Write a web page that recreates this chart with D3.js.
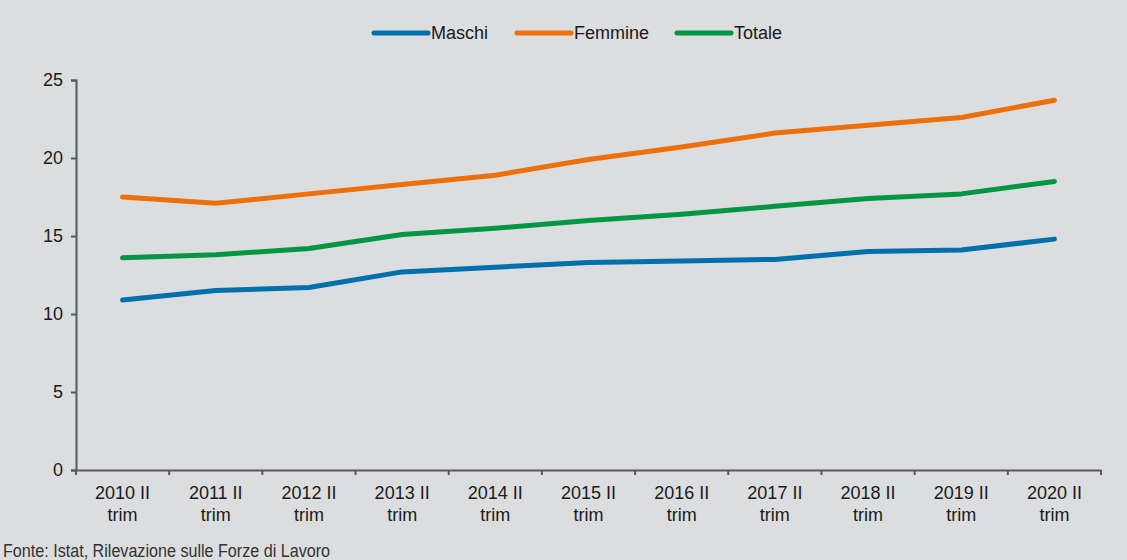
<!DOCTYPE html>
<html>
<head>
<meta charset="utf-8">
<script src="https://cdn.jsdelivr.net/npm/d3@7"></script>
<style>
  body { margin: 0; background: #dcddde; }
  svg { display: block; font-family: "Liberation Sans", Arial, sans-serif; }
</style>
</head>
<body>
<svg id="chart" width="1127" height="560"></svg>
<script>
var categories = ["2010 II trim", "2011 II trim", "2012 II trim", "2013 II trim", "2014 II trim",
    "2015 II trim", "2016 II trim", "2017 II trim", "2018 II trim", "2019 II trim", "2020 II trim"]
var maschi = [10.9, 11.5, 11.7, 12.7, 13.0, 13.3, 13.4, 13.5, 14.0, 14.1, 14.8]
var femmine = [17.5, 17.1, 17.7, 18.3, 18.9, 19.9, 20.7, 21.6, 22.1, 22.6, 23.7]
var totale = [13.6, 13.8, 14.2, 15.1, 15.5, 16.0, 16.4, 16.9, 17.4, 17.7, 18.5]
var yTicks = [0, 5, 10, 15, 20, 25]
var seriesNames = ["Maschi", "Femmine", "Totale"]
var seriesColors = ["#0070ad", "#ed700a", "#009644"]

var series = [maschi, femmine, totale].map(function(v, i) {
    return { name: seriesNames[i], color: seriesColors[i], values: v }
})

var svg = d3.select("#chart")
var plotLeft = 76, plotRight = 1101, plotTop = 80, plotBottom = 470
var axisColor = "#595959"
var textColor = "#1a1a1a"

var x = d3.scaleBand().domain(categories).range([plotLeft, plotRight])
var y = d3.scaleLinear().domain([0, 25]).range([plotBottom, plotTop])

// y axis
var yAxis = d3.axisLeft(y).tickValues(yTicks).tickSize(5).tickPadding(8)
var gy = svg.append("g").attr("transform", "translate(" + plotLeft + ",0)").call(yAxis)
gy.selectAll("text").attr("font-size", 18).attr("fill", textColor)
    .attr("font-family", "Liberation Sans, Arial, sans-serif")

// x axis: ticks between categories
var xAxis = d3.axisBottom(x).tickSize(0).tickFormat("")
var gx = svg.append("g").attr("transform", "translate(0," + plotBottom + ")").call(xAxis)
gx.selectAll(".tick").remove()
var bounds = categories.map(function(c) { return x(c) }).concat([plotRight])
gx.selectAll(".sep").data(bounds).enter().append("line")
    .attr("x1", function(d) { return d }).attr("x2", function(d) { return d })
    .attr("y1", 0).attr("y2", 5)
    .attr("stroke", axisColor).attr("stroke-width", 2)

var labels = gx.selectAll(".lab").data(categories).enter().append("text")
    .attr("text-anchor", "middle")
    .attr("font-size", 18)
    .attr("fill", textColor)
    .attr("font-family", "Liberation Sans, Arial, sans-serif")
    .attr("transform", function(d) { return "translate(" + (x(d) + x.bandwidth() / 2) + ",0)" })
labels.append("tspan").attr("x", 0).attr("y", 29).text(function(d) { return d.replace(" trim", "") })
labels.append("tspan").attr("x", 0).attr("y", 51).text("trim")

svg.selectAll(".domain").attr("stroke", axisColor).attr("stroke-width", 2)
svg.selectAll(".tick line").attr("stroke", axisColor).attr("stroke-width", 2)

// lines
var line = d3.line()
    .x(function(d, i) { return x(categories[i]) + x.bandwidth() / 2 })
    .y(function(d) { return y(d) })

svg.selectAll(".series").data(series).enter().append("path")
    .attr("d", function(d) { return line(d.values) })
    .attr("fill", "none")
    .attr("stroke", function(d) { return d.color })
    .attr("stroke-width", 5)
    .attr("stroke-linecap", "round")
    .attr("stroke-linejoin", "round")

// legend
var legendX = [374, 517, 677]
var leg = svg.selectAll(".leg").data(series).enter().append("g")
    .attr("transform", function(d, i) { return "translate(" + legendX[i] + ",33)" })
leg.append("line").attr("x1", 0).attr("x2", 54).attr("y1", 0).attr("y2", 0)
    .attr("stroke", function(d) { return d.color })
    .attr("stroke-width", 5).attr("stroke-linecap", "round")
leg.append("text").attr("x", 57).attr("y", 6)
    .attr("font-size", 18).attr("fill", textColor)
    .text(function(d) { return d.name })

// source
svg.append("text").attr("x", 3).attr("y", 557)
    .attr("font-family", "Liberation Sans Narrow, Arial Narrow, sans-serif")
    .attr("font-size", 18).attr("fill", "#333")
    .attr("textLength", 327).attr("lengthAdjust", "spacingAndGlyphs")
    .text("Fonte: Istat, Rilevazione sulle Forze di Lavoro")
</script>
</body>
</html>
